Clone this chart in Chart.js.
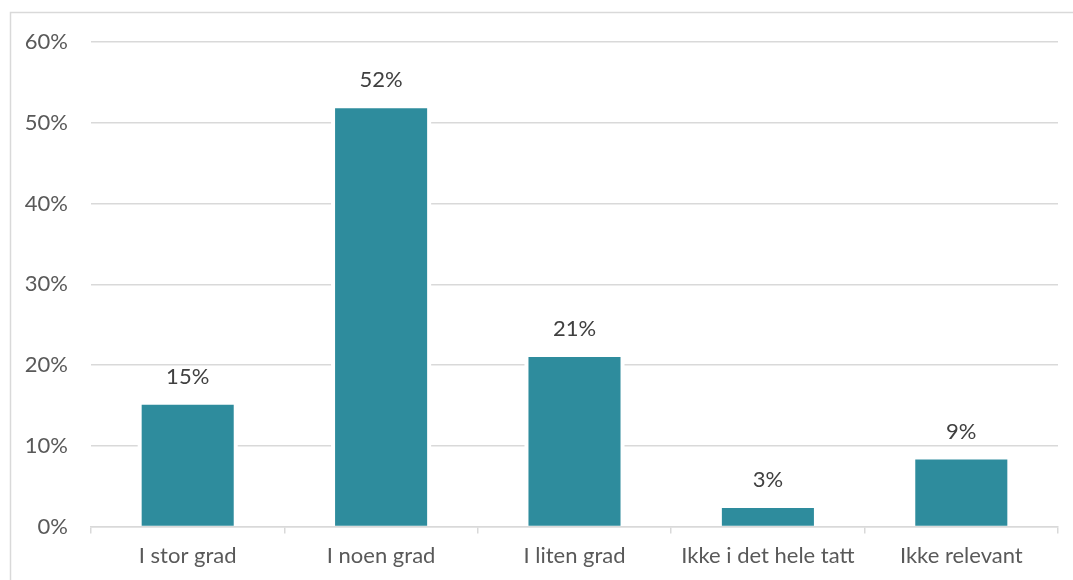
<!DOCTYPE html>
<html>
<head>
<meta charset="utf-8">
<script src="https://cdn.jsdelivr.net/npm/chart.js@4.4.1/dist/chart.umd.min.js"></script>
<style>
html,body{margin:0;padding:0;background:#fff;}
#wrap{width:1073px;height:580px;position:relative;}
</style>
</head>
<body>
<div id="wrap"><canvas id="c" width="1073" height="580"></canvas></div>
<script>
const categories = ["I stor grad", "I noen grad", "I liten grad", "Ikke i det hele tatt", "Ikke relevant"];
const values = [15.1, 51.8, 21.0, 2.3, 8.3];
const valueLabels = ["15%", "52%", "21%", "3%", "9%"];
const yTicks = [0, 10, 20, 30, 40, 50, 60];

const FONT = "Lato, 'Open Sans', sans-serif";
const FS = 22;

const framePlugin = {
  id: 'frame',
  beforeDraw(chart) {
    const ctx = chart.ctx;
    ctx.save();
    ctx.fillStyle = '#fff';
    ctx.fillRect(0, 0, chart.width, chart.height);
    ctx.strokeStyle = '#d9d9d9';
    ctx.lineWidth = 1.5;
    ctx.strokeRect(10.5, 12.5, chart.width + 20, chart.height + 20);
    ctx.restore();
  }
};

const gapPlugin = {
  id: 'gap',
  beforeDatasetsDraw(chart) {
    const ctx = chart.ctx;
    const meta = chart.getDatasetMeta(0);
    ctx.save();
    ctx.fillStyle = '#fff';
    meta.data.forEach(bar => {
      const w = bar.width;
      const x0 = bar.x - w / 2 - 4;
      const y0 = bar.y - 4;
      const h = bar.base - 1 - y0;
      ctx.fillRect(x0, y0, w + 8, h);
    });
    ctx.restore();
  },
  afterDatasetsDraw(chart) {
    const ctx = chart.ctx;
    const meta = chart.getDatasetMeta(0);
    ctx.save();
    ctx.fillStyle = '#404040';
    ctx.font = FS + "px " + FONT;
    ctx.textAlign = 'center';
    ctx.textBaseline = 'middle';
    meta.data.forEach((bar, i) => {
      ctx.fillText(valueLabels[i], bar.x, bar.y - 28);
    });
    ctx.restore();
  }
};

new Chart(document.getElementById('c'), {
  type: 'bar',
  data: {
    labels: categories,
    datasets: [{
      data: values,
      backgroundColor: '#2e8c9d',
      borderWidth: 0,
      barPercentage: 0.476,
      categoryPercentage: 1.0
    }]
  },
  options: {
    responsive: false,
    animation: false,
    devicePixelRatio: 1,
    layout: { padding: { left: 0, right: 15, top: 42, bottom: 2 } },
    plugins: { legend: { display: false }, tooltip: { enabled: false } },
    scales: {
      x: {
        grid: { drawOnChartArea: false, color: '#d9d9d9', tickLength: 7, lineWidth: 1.5, offset: true },
        border: { color: '#d9d9d9', width: 1.5 },
        ticks: { color: '#595959', font: { family: FONT, size: FS }, padding: 9, maxRotation: 0, autoSkip: false }
      },
      y: {
        min: 0, max: 60,
        afterBuildTicks(scale) { scale.ticks = yTicks.map(v => ({ value: v })); },
        afterFit(scale) { scale.width = 91; },
        grid: { color: '#d9d9d9', lineWidth: 1.5, drawTicks: false },
        border: { display: false },
        ticks: { color: '#595959', font: { family: FONT, size: FS }, padding: 23, callback: v => v + '%' }
      }
    }
  },
  plugins: [framePlugin, gapPlugin]
});
</script>
</body>
</html>
